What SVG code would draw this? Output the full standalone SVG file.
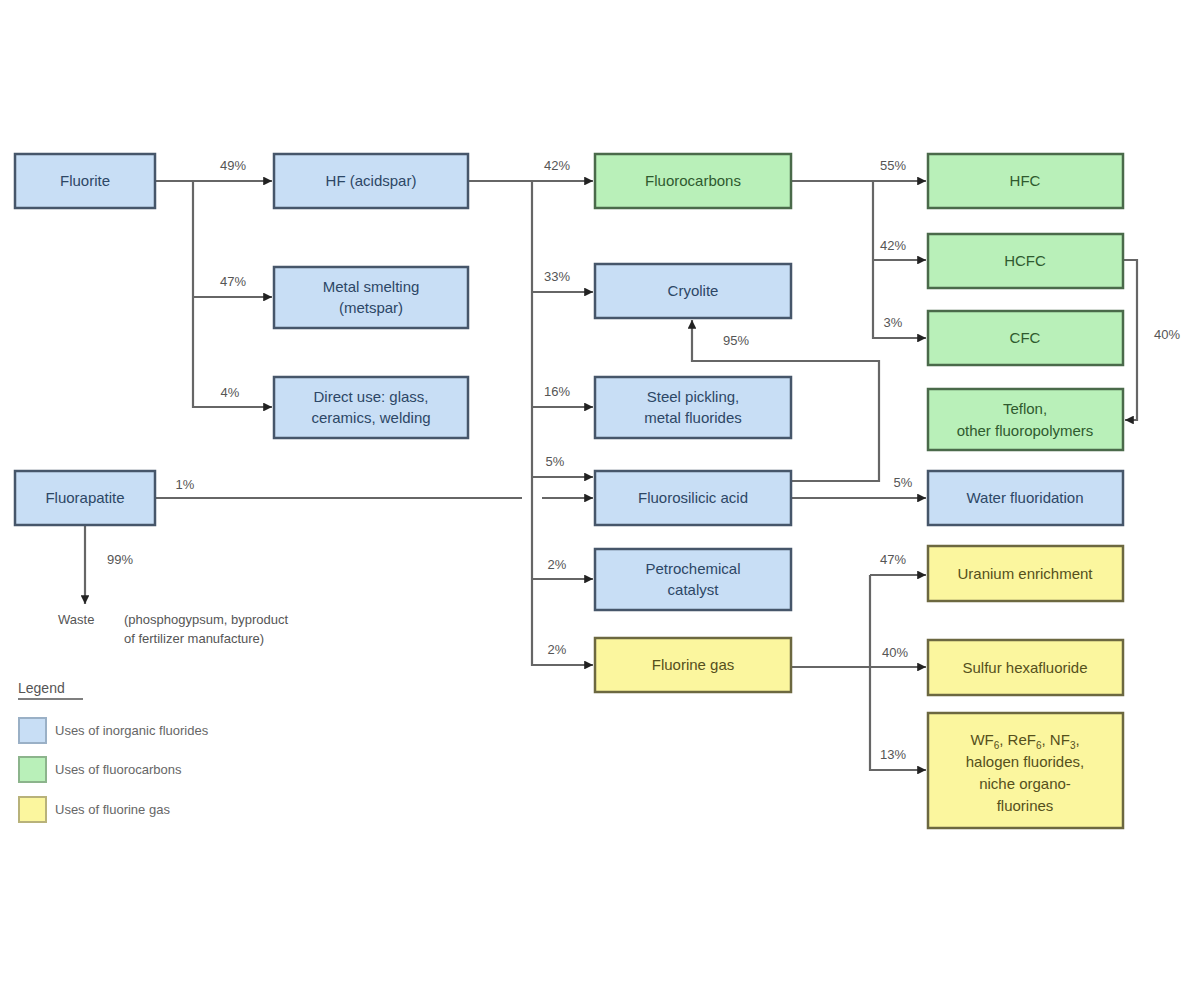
<svg xmlns="http://www.w3.org/2000/svg" width="1200" height="981" viewBox="0 0 1200 981">
<defs>
<style>
.b rect{fill:#c8def5;stroke:#46566a;stroke-width:2.5}
.g rect{fill:#b9f0b9;stroke:#4a6a4a;stroke-width:2.5}
.y rect{fill:#fbf69e;stroke:#6c6840;stroke-width:2.5}
text{font-family:"Liberation Sans",Arial,sans-serif;font-size:15px;text-anchor:middle}
.b text{fill:#2d4766}
.g text{fill:#2f5a2f}
.y text{fill:#55501c}
.lbl{fill:#555;font-size:13px}
.lg{fill:#666;font-size:13px;text-anchor:start}
#connectors path{fill:none;stroke:#666;stroke-width:2.2}
</style>
<marker id="ar" viewBox="0 0 8 8" refX="8" refY="4" markerWidth="4" markerHeight="4" orient="auto" markerUnits="strokeWidth">
<path d="M0,0 L8,4 L0,8 z" fill="#222"/>
</marker>
</defs>
<rect width="1200" height="981" fill="#ffffff"/>

<g id="connectors">
<path d="M155,181 H272" marker-end="url(#ar)"/>
<path d="M193,181 V407 H272" marker-end="url(#ar)"/>
<path d="M193,297 H272" marker-end="url(#ar)"/>
<path d="M468,181 H593" marker-end="url(#ar)"/>
<path d="M532,181 V665 H593" marker-end="url(#ar)"/>
<path d="M532,292 H593" marker-end="url(#ar)"/>
<path d="M532,407 H593" marker-end="url(#ar)"/>
<path d="M532,477 H593" marker-end="url(#ar)"/>
<path d="M532,579 H593" marker-end="url(#ar)"/>
<path d="M155,498 H522"/>
<path d="M542,498 H593" marker-end="url(#ar)"/>
<path d="M85,525 V604" marker-end="url(#ar)"/>
<path d="M791,481 H879 V361 H692 V320" marker-end="url(#ar)"/>
<path d="M791,498 H926" marker-end="url(#ar)"/>
<path d="M791,181 H926" marker-end="url(#ar)"/>
<path d="M873,181 V338 H926" marker-end="url(#ar)"/>
<path d="M873,260 H926" marker-end="url(#ar)"/>
<path d="M1123,260 H1137 V420 H1125" marker-end="url(#ar)"/>
<path d="M791,667 H926" marker-end="url(#ar)"/>
<path d="M870,575 V770 H926" marker-end="url(#ar)"/>
<path d="M870,575 H926" marker-end="url(#ar)"/>
</g>

<g id="edge-labels">
<text class="lbl" x="233" y="170">49%</text>
<text class="lbl" x="233" y="286">47%</text>
<text class="lbl" x="230" y="397">4%</text>
<text class="lbl" x="557" y="170">42%</text>
<text class="lbl" x="557" y="281">33%</text>
<text class="lbl" x="557" y="396">16%</text>
<text class="lbl" x="555" y="466">5%</text>
<text class="lbl" x="557" y="569">2%</text>
<text class="lbl" x="557" y="654">2%</text>
<text class="lbl" x="185" y="489">1%</text>
<text class="lbl" x="120" y="564">99%</text>
<text class="lbl" x="736" y="345">95%</text>
<text class="lbl" x="903" y="487">5%</text>
<text class="lbl" x="893" y="170">55%</text>
<text class="lbl" x="893" y="250">42%</text>
<text class="lbl" x="893" y="327">3%</text>
<text class="lbl" x="1167" y="339">40%</text>
<text class="lbl" x="893" y="564">47%</text>
<text class="lbl" x="895" y="657">40%</text>
<text class="lbl" x="893" y="759">13%</text>
</g>

<g id="fluorite" class="b"><rect x="15" y="154" width="140" height="54"/><text x="85" y="186">Fluorite</text></g>
<g id="hf" class="b"><rect x="274" y="154" width="194" height="54"/><text x="371" y="186">HF (acidspar)</text></g>
<g id="metal-smelting" class="b"><rect x="274" y="267" width="194" height="61"/><text x="371" y="292">Metal smelting</text><text x="371" y="313">(metspar)</text></g>
<g id="direct-use" class="b"><rect x="274" y="377" width="194" height="61"/><text x="371" y="402">Direct use: glass,</text><text x="371" y="423">ceramics, welding</text></g>
<g id="fluorapatite" class="b"><rect x="15" y="471" width="140" height="54"/><text x="85" y="503">Fluorapatite</text></g>
<g id="waste"><text x="58" y="624" style="text-anchor:start;fill:#555;font-size:13px">Waste</text><text x="124" y="624" style="text-anchor:start;fill:#555;font-size:13px">(phosphogypsum, byproduct</text><text x="124" y="643" style="text-anchor:start;fill:#555;font-size:13px">of fertilizer manufacture)</text></g>

<g id="fluorocarbons" class="g"><rect x="595" y="154" width="196" height="54"/><text x="693" y="186">Fluorocarbons</text></g>
<g id="cryolite" class="b"><rect x="595" y="264" width="196" height="54"/><text x="693" y="296">Cryolite</text></g>
<g id="steel-pickling" class="b"><rect x="595" y="377" width="196" height="61"/><text x="693" y="402">Steel pickling,</text><text x="693" y="423">metal fluorides</text></g>
<g id="fluorosilicic" class="b"><rect x="595" y="471" width="196" height="54"/><text x="693" y="503">Fluorosilicic acid</text></g>
<g id="petrochemical" class="b"><rect x="595" y="549" width="196" height="61"/><text x="693" y="574">Petrochemical</text><text x="693" y="595">catalyst</text></g>
<g id="fluorine-gas" class="y"><rect x="595" y="638" width="196" height="54"/><text x="693" y="670">Fluorine  gas</text></g>

<g id="hfc" class="g"><rect x="928" y="154" width="195" height="54"/><text x="1025" y="186">HFC</text></g>
<g id="hcfc" class="g"><rect x="928" y="234" width="195" height="54"/><text x="1025" y="266">HCFC</text></g>
<g id="cfc" class="g"><rect x="928" y="311" width="195" height="54"/><text x="1025" y="343">CFC</text></g>
<g id="teflon" class="g"><rect x="928" y="389" width="195" height="61"/><text x="1025" y="414">Teflon,</text><text x="1025" y="436">other fluoropolymers</text></g>
<g id="water-fluoridation" class="b"><rect x="928" y="471" width="195" height="54"/><text x="1025" y="503">Water fluoridation</text></g>
<g id="uranium" class="y"><rect x="928" y="546" width="195" height="55"/><text x="1025" y="579">Uranium enrichment</text></g>
<g id="sf6" class="y"><rect x="928" y="640" width="195" height="55"/><text x="1025" y="673">Sulfur  hexafluoride</text></g>
<g id="wf6" class="y"><rect x="928" y="713" width="195" height="115"/>
<text x="1025" y="745">WF<tspan font-size="10" dy="4">6</tspan><tspan dy="-4">, ReF</tspan><tspan font-size="10" dy="4">6</tspan><tspan dy="-4">, NF</tspan><tspan font-size="10" dy="4">3</tspan><tspan dy="-4">,</tspan></text>
<text x="1025" y="767">halogen fluorides,</text>
<text x="1025" y="789">niche organo-</text>
<text x="1025" y="811">fluorines</text></g>

<g id="legend">
<text x="18" y="693" style="text-anchor:start;fill:#555;font-size:14px">Legend</text>
<path d="M18,699 H83" stroke="#555" stroke-width="1.5"/>
<rect x="19" y="718" width="27" height="25" fill="#c8def5" stroke="#9ab0c6" stroke-width="2"/>
<rect x="19" y="757" width="27" height="25" fill="#b9f0b9" stroke="#8cb48c" stroke-width="2"/>
<rect x="19" y="797" width="27" height="25" fill="#fbf69e" stroke="#b8b27a" stroke-width="2"/>
<text class="lg" x="55" y="735">Uses of inorganic fluorides</text>
<text class="lg" x="55" y="774">Uses of fluorocarbons</text>
<text class="lg" x="55" y="814">Uses of fluorine gas</text>
</g>
</svg>
